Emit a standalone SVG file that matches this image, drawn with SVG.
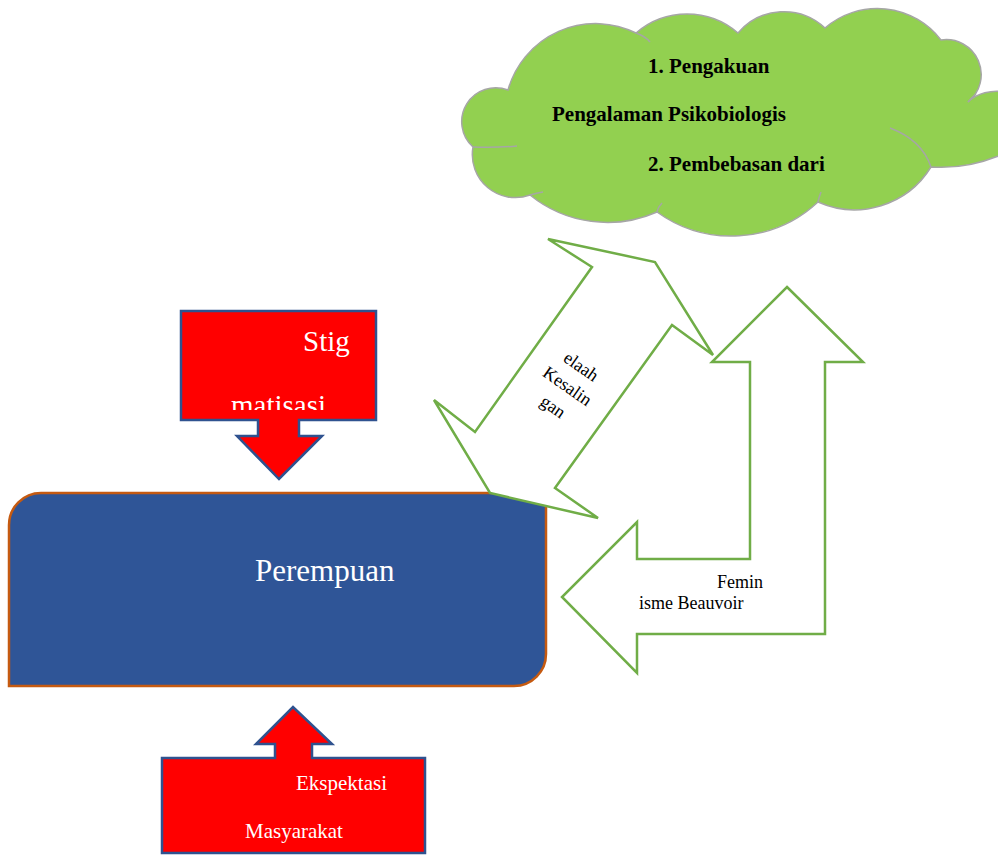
<svg xmlns="http://www.w3.org/2000/svg" width="998" height="855" viewBox="0 0 998 855">
<style>
text{font-family:"Liberation Serif","Times New Roman",serif}
.red{fill:#ff0000;stroke:#2f528f;stroke-width:2.5;stroke-linejoin:miter}
.wt{fill:#ffffff}
.garrow{fill:#ffffff;stroke:#70ad47;stroke-width:2.5;stroke-linejoin:miter}
.cloud{fill:#92d050;stroke:#a6a6a6;stroke-width:1.5}
.inner{fill:none;stroke:#a6a6a6;stroke-width:1.5}
.bt{font-weight:bold;font-size:21px;fill:#000}
.bk{fill:#000;font-size:18px}
</style>
<defs>
<clipPath id="stigclip"><rect x="183" y="313" width="191" height="97"/></clipPath>
</defs>
<rect width="998" height="855" fill="#ffffff"/>

<g id="perempuan">
<path d="M9,686 L9,525 A32,32 0 0 1 41,493 L546,493 L546,654 A32,32 0 0 1 514,686 Z" fill="#2f5597" stroke="#c55a11" stroke-width="2.5"/>
<text x="255" y="581" font-size="31" class="wt">Perempuan</text>
</g>

<g id="connectors">
<g id="telaah-arrow">
<polygon class="garrow" points="548,239 655,262 713,355 672,325 555,488 598,518 490,493 434,400 475,432 592,267"/>
<g transform="translate(564,391) rotate(35)" font-size="18" text-anchor="middle">
<text class="bk" x="0" y="-24">elaah</text>
<text class="bk" x="0" y="0">Kesalin</text>
<text class="bk" x="0" y="25">gan</text>
</g>
</g>
<g id="feminisme-arrow">
<polygon class="garrow" points="787,287 863,362 825,362 825,634 637,634 637,673 562,597 637,522 637,559 750,559 750,362 712,362"/>
<text class="bk" x="717" y="588">Femin</text>
<text class="bk" x="639" y="609">isme Beauvoir</text>
</g>
</g>

<g id="cloud">
<path class="cloud" d="M508,90 A91,91 0 0 1 636,33 A78,78 0 0 1 738,33 A60,60 0 0 1 825,28 A80,80 0 0 1 941,40 A35,35 0 0 1 968,102 C985,85 1030,85 1030,125 C1030,150 975,170 931,167 A90,90 0 0 1 818,202 A127,127 0 0 1 657,212 A123,123 0 0 1 530,195 A43,43 0 0 1 473,147 A34,34 0 0 1 508,90 Z"/>
<path class="inner" d="M473,147 Q495,148 517,146"/>
<path class="inner" d="M636,33 Q645,36 650,42"/>
<path class="inner" d="M530,195 Q537,193 543,192"/>
<path class="inner" d="M657,212 Q658,207 662,203"/>
<path class="inner" d="M818,202 Q819,197 821,192"/>
<path class="inner" d="M890,128 Q922,140 931,167"/>
<path class="inner" d="M968,102 Q972,97 976,94"/>
<text class="bt" x="648" y="73">1. Pengakuan</text>
<text class="bt" x="552" y="121">Pengalaman Psikobiologis</text>
<text class="bt" x="648" y="171">2. Pembebasan dari</text>
</g>

<g id="stigmatisasi">
<path class="red" d="M181,311 L376,311 L376,420 L299,420 L299,436 L322,436 L279,479 L237,436 L258,436 L258,420 L181,420 Z"/>
<g clip-path="url(#stigclip)">
<text class="wt" x="303" y="351" font-size="29">Stig</text>
<text class="wt" x="231" y="415" font-size="29">matisasi</text>
</g>
</g>

<g id="ekspektasi">
<path class="red" d="M162,758 L275,758 L275,744 L256,744 L293,707 L332,744 L312,744 L312,758 L425,758 L425,853 L162,853 Z"/>
<text class="wt" x="296" y="790" font-size="21">Ekspektasi</text>
<text class="wt" x="245" y="838" font-size="21">Masyarakat</text>
</g>
</svg>
